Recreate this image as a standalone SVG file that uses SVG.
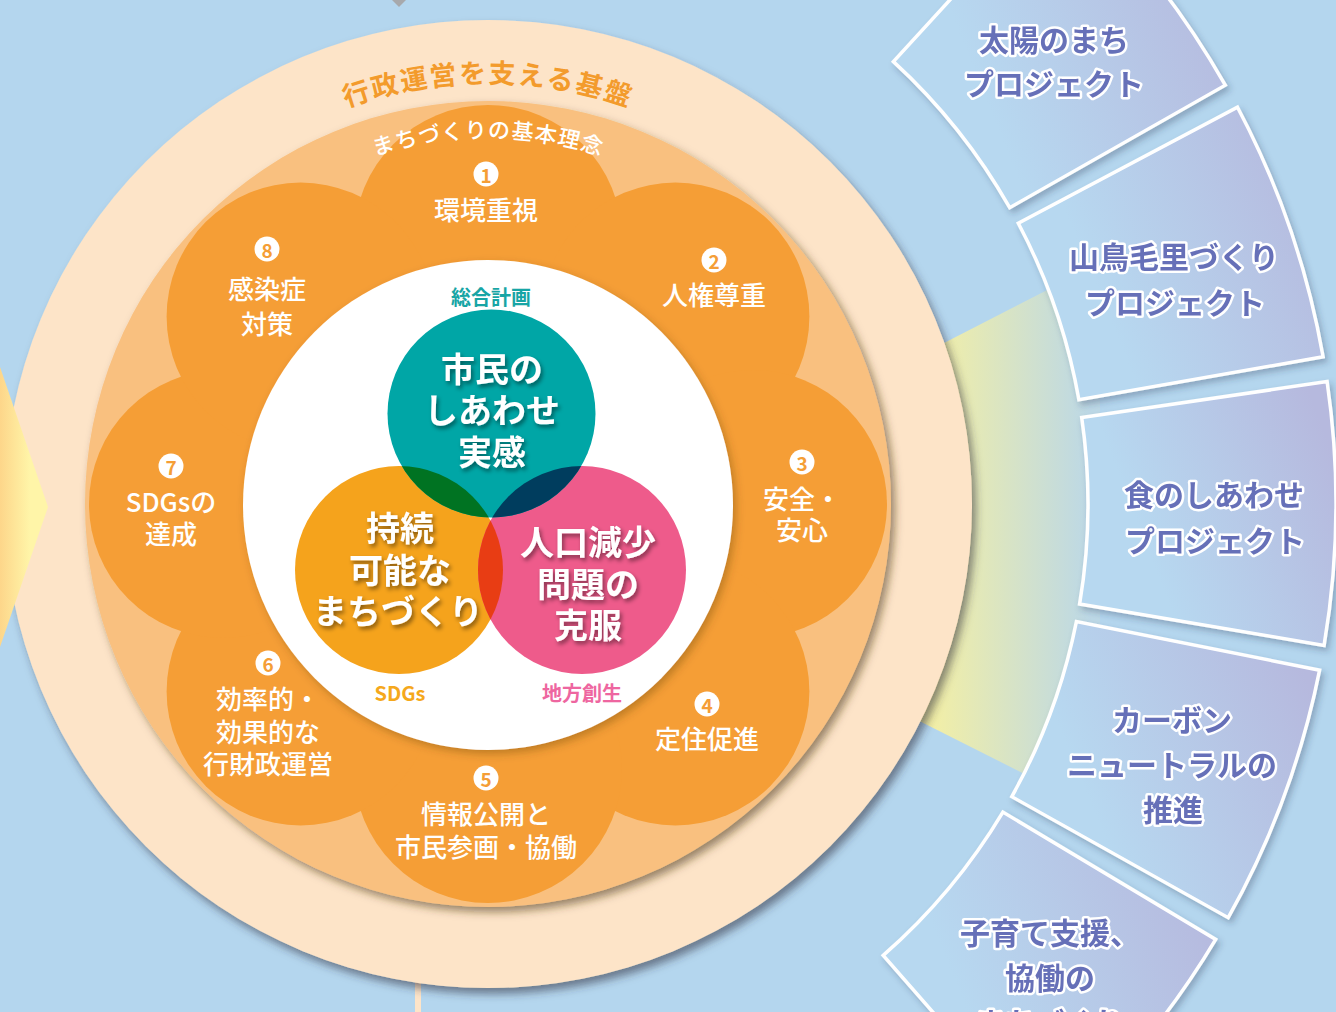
<svg xmlns="http://www.w3.org/2000/svg" width="1336" height="1012" viewBox="0 0 1336 1012">
<defs>
<style>
.jp{font-family:"Noto Sans CJK JP","Noto Sans",sans-serif}
.lbl{font-family:"Noto Sans CJK JP","Noto Sans",sans-serif;font-size:26px;font-weight:500;fill:#fff;text-anchor:middle;dominant-baseline:central}
.num{font-family:"Noto Sans CJK JP","Noto Sans",sans-serif;font-size:19px;font-weight:700;fill:#F59E36;text-anchor:middle;dominant-baseline:central}
.venn{font-family:"Noto Sans CJK JP","Noto Sans",sans-serif;font-size:34px;font-weight:700;fill:#fff;text-anchor:middle;dominant-baseline:central}
.cap{font-family:"Noto Sans CJK JP","Noto Sans",sans-serif;font-size:20px;font-weight:700;text-anchor:middle;dominant-baseline:central}
.pt{font-family:"Noto Sans CJK JP","Noto Sans",sans-serif;font-size:30px;font-weight:700;fill:#6670B8;stroke:#fff;stroke-width:5px;stroke-linejoin:round;paint-order:stroke;text-anchor:middle;dominant-baseline:central}
.panel{fill:url(#pg);stroke:#fff;stroke-width:3.5px;stroke-linejoin:miter}
</style>
<linearGradient id="pg" x1="0" y1="0.7" x2="1" y2="0.3">
<stop offset="0.25" stop-color="#B7D8F0"/>
<stop offset="1" stop-color="#B6B9DE"/>
</linearGradient>
<linearGradient id="band" gradientUnits="userSpaceOnUse" x1="930" y1="0" x2="1090" y2="0">
<stop offset="0" stop-color="#F3EFA5"/>
<stop offset="1" stop-color="#BCD8E6"/>
</linearGradient>
<linearGradient id="chev" gradientUnits="userSpaceOnUse" x1="0" y1="0" x2="30" y2="0">
<stop offset="0" stop-color="#FDD68A"/>
<stop offset="1" stop-color="#FFF5A8"/>
</linearGradient>
<filter id="sh" x="-10%" y="-10%" width="125%" height="125%">
<feDropShadow dx="4" dy="6" stdDeviation="4" flood-color="#2d3340" flood-opacity="0.55"/>
</filter>
<filter id="sh2" x="-10%" y="-10%" width="125%" height="125%">
<feDropShadow dx="4" dy="5" stdDeviation="4" flood-color="#4a3418" flood-opacity="0.55"/>
</filter>
<filter id="sh3" x="-10%" y="-10%" width="125%" height="125%">
<feDropShadow dx="3" dy="4" stdDeviation="4" flood-color="#5a3a10" flood-opacity="0.35"/>
</filter>
<filter id="psh" x="-10%" y="-10%" width="125%" height="125%">
<feDropShadow dx="3" dy="4" stdDeviation="3" flood-color="#2d3a55" flood-opacity="0.3"/>
</filter>
<filter id="tsh" x="-20%" y="-30%" width="140%" height="160%">
<feDropShadow dx="2" dy="3" stdDeviation="2" flood-color="#000" flood-opacity="0.45"/>
</filter>
<path id="arcOuter" d="M 67 504 A 421 421 0 0 1 909 504"/>
<path id="arcInner" d="M 122 504 A 366 366 0 0 1 854 504"/>
<clipPath id="cTeal"><circle cx="491.5" cy="413.5" r="104"/></clipPath>
<clipPath id="cOrange"><circle cx="399" cy="570" r="104"/></clipPath>
</defs>

<rect width="1336" height="1012" fill="#B4D6EE"/>

<g id="top-marker"><polygon points="382,-10 416,-10 399,7" fill="#A7A9AC"/></g>
<g id="bottom-line"><rect x="415" y="975" width="6" height="40" fill="#FDE4C8"/></g>

<g id="band-right"><polygon points="560,540 1100,263 1100,812" fill="url(#band)"/></g>

<g id="base-ring">
<circle cx="488" cy="504" r="484" fill="#FDE4C8" filter="url(#sh)"/>
<text class="jp" font-size="27" font-weight="700" fill="#F39B2C" letter-spacing="2"><textPath href="#arcOuter" startOffset="50%" text-anchor="middle">行政運営を支える基盤</textPath></text>
</g>

<g id="left-arrow"><polygon points="-20,310 0,367 48,507 0,647 -20,700" fill="url(#chev)"/></g>

<g id="principles">
<circle cx="488" cy="504" r="403" fill="#F9C07F" filter="url(#sh2)"/>
<g fill="#F59E36">
<circle cx="488" cy="504" r="265"/>
<circle cx="488" cy="239" r="134"/>
<circle cx="675.4" cy="316.6" r="134"/>
<circle cx="753" cy="504" r="134"/>
<circle cx="675.4" cy="691.4" r="134"/>
<circle cx="488" cy="769" r="134"/>
<circle cx="300.6" cy="691.4" r="134"/>
<circle cx="223" cy="504" r="134"/>
<circle cx="300.6" cy="316.6" r="134"/>
</g>
<text class="jp" font-size="22" font-weight="500" fill="#fff" letter-spacing="1"><textPath href="#arcInner" startOffset="50%" text-anchor="middle">まちづくりの基本理念</textPath></text>
</g>

<g id="p1"><circle cx="486" cy="174" r="12.5" fill="#fff"/><text class="num" x="486" y="174">1</text><text class="lbl" x="486" y="208">環境重視</text></g>
<g id="p2"><circle cx="714" cy="260" r="12.5" fill="#fff"/><text class="num" x="714" y="260">2</text><text class="lbl" x="714" y="293">人権尊重</text></g>
<g id="p3"><circle cx="802" cy="462" r="12.5" fill="#fff"/><text class="num" x="802" y="462">3</text><text class="lbl" x="802" y="497">安全・<tspan x="802" dy="31">安心</tspan></text></g>
<g id="p4"><circle cx="707" cy="704" r="12.5" fill="#fff"/><text class="num" x="707" y="704">4</text><text class="lbl" x="707" y="737">定住促進</text></g>
<g id="p5"><circle cx="486" cy="778" r="12.5" fill="#fff"/><text class="num" x="486" y="778">5</text><text class="lbl" x="486" y="812">情報公開と<tspan x="486" dy="33">市民参画・協働</tspan></text></g>
<g id="p6"><circle cx="268" cy="663" r="12.5" fill="#fff"/><text class="num" x="268" y="663">6</text><text class="lbl" x="268" y="697">効率的・<tspan x="268" dy="33">効果的な</tspan><tspan x="268" dy="32">行財政運営</tspan></text></g>
<g id="p7"><circle cx="171" cy="466" r="12.5" fill="#fff"/><text class="num" x="171" y="466">7</text><text class="lbl" x="171" y="500">SDGsの<tspan x="171" dy="32">達成</tspan></text></g>
<g id="p8"><circle cx="267" cy="249" r="12.5" fill="#fff"/><text class="num" x="267" y="249">8</text><text class="lbl" x="267" y="287">感染症<tspan x="267" dy="35">対策</tspan></text></g>

<g id="core">
<circle cx="488" cy="505" r="245" fill="#fff" filter="url(#sh3)"/>
<text class="cap" x="491" y="296" fill="#17A5A5">総合計画</text>
<text class="cap" x="400" y="692" fill="#F5A81C">SDGs</text>
<text class="cap" x="582" y="692" fill="#EE66A0">地方創生</text>
</g>

<g id="venn">
<circle cx="399" cy="570" r="104" fill="#F5A31C"/>
<circle cx="582" cy="570" r="104" fill="#EE5B8B"/>
<circle cx="491.5" cy="413.5" r="104" fill="#00A6A6"/>
<circle cx="399" cy="570" r="104" fill="#007322" clip-path="url(#cTeal)"/>
<circle cx="582" cy="570" r="104" fill="#003D5E" clip-path="url(#cTeal)"/>
<circle cx="582" cy="570" r="104" fill="#E83D14" clip-path="url(#cOrange)"/>
</g>
<g id="venn-teal-label" filter="url(#tsh)"><text class="venn" x="492" y="367">市民の<tspan x="492" dy="41">しあわせ</tspan><tspan x="492" dy="42">実感</tspan></text></g>
<g id="venn-orange-label" filter="url(#tsh)"><text class="venn" x="400" y="526">持続<tspan x="400" dy="42">可能な</tspan><tspan x="398" dy="41">まちづくり</tspan></text></g>
<g id="venn-pink-label" filter="url(#tsh)"><text class="venn" x="588" y="540">人口減少<tspan x="588" dy="42">問題の</tspan><tspan x="588" dy="41">克服</tspan></text></g>

<g id="proj1" filter="url(#psh)"><path class="panel" d="M893.4,61.6 A600,600 0 0 1 1009.7,207.7 L1225.3,85.2 A848,848 0 0 0 1060.9,-121.2 Z"/><text class="pt" x="1054" y="38">太陽のまち<tspan x="1054" dy="44">プロジェクト</tspan></text></g>
<g id="proj2" filter="url(#psh)"><path class="panel" d="M1018.3,223.3 A600,600 0 0 1 1078.9,399.8 L1323.1,356.8 A848,848 0 0 0 1237.5,107.2 Z"/><text class="pt" x="1174" y="255">山鳥毛里づくり<tspan x="1175" dy="46">プロジェクト</tspan></text></g>
<g id="proj3" filter="url(#psh)"><path class="panel" d="M1081.7,417.4 A600,600 0 0 1 1079.6,604.1 L1324.1,645.4 A848,848 0 0 0 1327.1,381.6 Z"/><text class="pt" x="1214" y="493">食のしあわせ<tspan x="1215" dy="46">プロジェクト</tspan></text></g>
<g id="proj4" filter="url(#psh)"><path class="panel" d="M1076.4,621.6 A600,600 0 0 1 1011.8,796.7 L1228.2,917.7 A848,848 0 0 0 1319.6,670.2 Z"/><text class="pt" x="1172" y="718">カーボン<tspan x="1172" dy="45">ニュートラルの</tspan><tspan x="1173" dy="45">推進</tspan></text></g>
<g id="proj5" filter="url(#psh)"><path class="panel" d="M1002.9,812.1 A600,600 0 0 1 883.2,955.4 L1046.6,1142 A848,848 0 0 0 1215.7,939.4 Z"/><text class="pt" x="1050" y="931">子育て支援、<tspan x="1050" dy="45">協働の</tspan><tspan x="1050" dy="45">まちづくり</tspan></text></g>
</svg>
